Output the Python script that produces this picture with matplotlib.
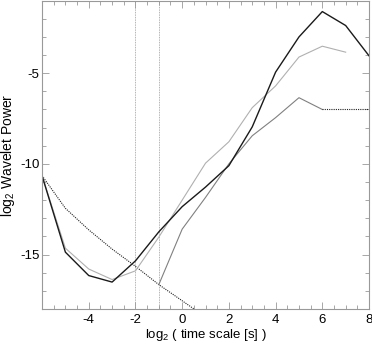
import matplotlib
matplotlib.use('Agg')
import matplotlib.pyplot as plt
import numpy as np

plt.rcParams['font.family'] = ['Liberation Sans', 'DejaVu Sans']
plt.rcParams['mathtext.default'] = 'regular'
plt.rcParams['axes.unicode_minus'] = False

# scales (log2 s)
x_all = [-6, -5, -4, -3, -2, -1, 0, 1, 2, 3, 4, 5, 6, 7, 8]
black = [-10.65, -14.87, -16.16, -16.52, -15.35, -13.75, -12.36, -11.28, -10.1,
         -7.96, -4.94, -3.0, -1.6, -2.37, -4.04]
light_x = [-6, -5, -4, -3, -2, -1, 0, 1, 2, 3, 4, 5, 6, 7]
light = [-10.65, -14.65, -15.8, -16.38, -15.9, -14.04, -12.0, -9.96, -8.78,
         -6.9, -5.7, -4.11, -3.51, -3.84]
mid_x = [-1, 0, 1, 2, 3, 4, 5, 6, 7, 8]
mid = [-16.66, -13.6, -11.85, -10.0, -8.45, -7.45, -6.35, -7.0, -7.0, -7.0]
dot_x = [-6, -5, -4, -3, -2, -1, 0, 1]
dot = [-10.65, -12.45, -13.64, -14.7, -15.65, -16.66, -17.55, -18.45]
vlines = [-2, -1]

fig = plt.figure(figsize=(3.72, 3.44), dpi=100)
ax = fig.add_axes([0.113, 0.102, 0.879, 0.896])

for v in vlines:
  ax.axvline(v, color='#999999', lw=0.6, linestyle=(0, (1, 1)))

ax.plot(dot_x, dot, color='#222222', lw=0.8, linestyle=(0, (1, 1)))
ax.plot(light_x, light, color='#b0b0b0', lw=0.8)
ax.plot(mid_x[:8], mid[:8], color='#808080', lw=0.8)
ax.plot(mid_x[7:], mid[7:], color='#222222', lw=0.8, linestyle=(0, (1, 1)))
ax.plot(x_all, black, color='#1a1a1a', lw=1.0)

ax.set_xlim(-6, 8)
ax.set_ylim(-18, -1)
ax.set_xticks([-4, -2, 0, 2, 4, 6, 8])
ax.set_xticks(np.arange(-6, 8.01, 0.5), minor=True)
ax.set_yticks([-15, -10, -5])
ax.set_yticklabels(['-15', '-10', '-5'])
ax.set_yticks(np.arange(-18, -0.99, 1), minor=True)
ax.tick_params(which='both', direction='in', top=True, right=True,
               color='#999999', labelsize=9.5)
ax.tick_params(axis='x', pad=3.5)
ax.tick_params(axis='y', pad=2)
ax.tick_params(which='major', length=5, width=0.6)
ax.tick_params(which='minor', length=3, width=0.6)
for s in ax.spines.values():
  s.set_color('#999999')
  s.set_linewidth(0.8)

ax.set_xlabel(r'log$_2$ ( time scale [s] )', fontsize=9.5, va='center')
ax.xaxis.set_label_coords(0.5, -0.085)
ax.set_ylabel(r'log$_2$ Wavelet Power', fontsize=10, va='center')
ax.yaxis.set_label_coords(-0.105, 0.5)

fig.savefig('out.png', dpi=100)
